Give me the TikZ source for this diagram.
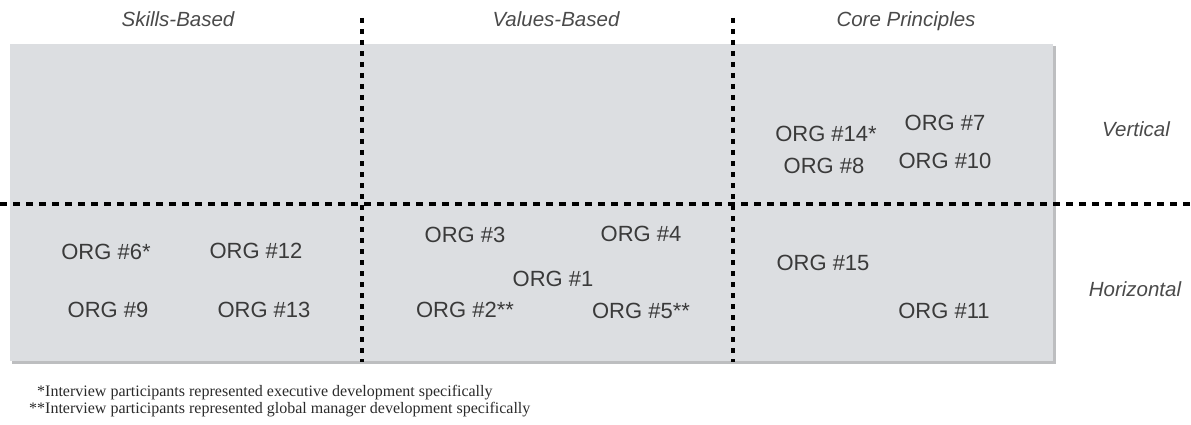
\documentclass[tikz,border=0pt]{standalone}
\usepackage{fontspec}
\setmainfont{Liberation Sans}
\newfontfamily\notefont{Liberation Serif}
\definecolor{boxgray}{HTML}{DCDEE1}
\definecolor{shadowgray}{HTML}{BDBEC0}
\definecolor{orgtext}{HTML}{3A3A3A}
\definecolor{hdrtext}{HTML}{4A4A4A}
\definecolor{notetext}{HTML}{2A2A2A}
\begin{document}
\begin{tikzpicture}[x=1pt,y=-1pt,
  org/.style={font=\fontsize{22}{24}\selectfont, text=orgtext, inner sep=0pt},
  hdr/.style={font=\fontsize{20.5}{22}\selectfont\itshape, text=hdrtext, inner sep=0pt, anchor=base},
  note/.style={font=\notefont\fontsize{16}{17}\selectfont, text=notetext, inner sep=0pt, anchor=base west},
  hdash/.style={line width=3.5pt, dash pattern=on 7pt off 6pt},
  vdash/.style={line width=3.5pt, dash pattern=on 5pt off 6pt}]
\useasboundingbox (0,0) rectangle (1191,425);
% panel with shadow
\fill[shadowgray] (12,46) rectangle (1056,364);
\fill[boxgray] (10,44) rectangle (1053,361);
% column headers
\node[hdr] (skills) at (178,27) {Skills-Based};
\node[hdr] (values) at (556,27) {Values-Based};
\node[hdr] (core) at (906,27) {Core Principles};
% row headers
\node[hdr] (vert) at (1136,137) {Vertical};
\node[hdr] (horiz) at (1135,296) {Horizontal};
% dividers
\coordinate (v1t) at (362,18);
\coordinate (v1b) at (362,362);
\coordinate (v2t) at (733,18);
\coordinate (v2b) at (733,362);
\coordinate (hl) at (0,204);
\coordinate (hr) at (1191,204);
\draw[hdash] (hl) -- (hr);
\draw[vdash] (v1t) -- (v1b);
\draw[vdash] (v2t) -- (v2b);
% core principles / vertical
\node[org] (o14) at (826,134) {ORG \#14*};
\node[org] (o7) at (945,123) {ORG \#7};
\node[org] (o8) at (824,166) {ORG \#8};
\node[org] (o10) at (945,161) {ORG \#10};
% skills-based / horizontal
\node[org] (o6) at (106,252) {ORG \#6*};
\node[org] (o12) at (256,251) {ORG \#12};
\node[org] (o9) at (108,310) {ORG \#9};
\node[org] (o13) at (264,310) {ORG \#13};
% values-based / horizontal
\node[org] (o3) at (465,235) {ORG \#3};
\node[org] (o4) at (641,234) {ORG \#4};
\node[org] (o1) at (553,279) {ORG \#1};
\node[org] (o2) at (465,310) {ORG \#2**};
\node[org] (o5) at (641,311) {ORG \#5**};
% core principles / horizontal
\node[org] (o15) at (823,263) {ORG \#15};
\node[org] (o11) at (944,311) {ORG \#11};
% footnotes
\node[note] (n1) at (37,396) {*Interview participants represented executive development specifically};
\node[note] (n2) at (29,413) {**Interview participants represented global manager development specifically};
\end{tikzpicture}
\end{document}
